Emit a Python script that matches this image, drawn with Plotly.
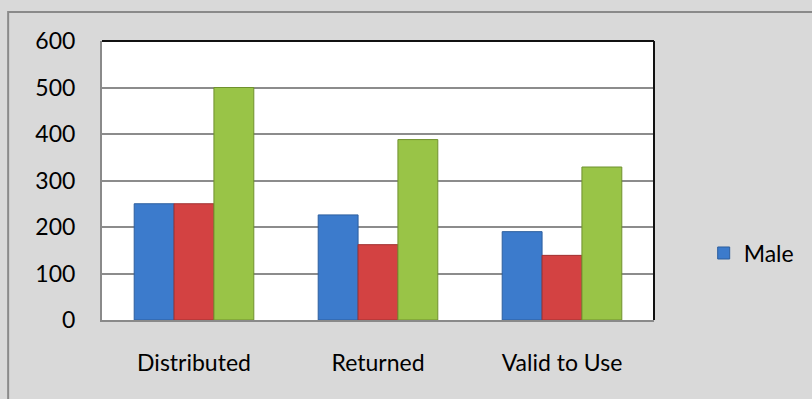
import plotly.graph_objects as go

categories = ["Distributed", "Returned", "Valid to Use"]
male = [250, 226, 190]
series_b = [250, 162, 139]
series_c = [500, 388, 329]
y_ticks = [0, 100, 200, 300, 400, 500, 600]

FONT = "Lato, Calibri, Carlito, sans-serif"

fig = go.Figure()
fig.add_trace(go.Bar(
    x=categories, y=male, name="Male",
    marker=dict(color="#3c7bcc", line=dict(color="#2d5f9f", width=1)),
    showlegend=True,
))
fig.add_trace(go.Bar(
    x=categories, y=series_b, name="",
    marker=dict(color="#d34242", line=dict(color="#a03030", width=1)),
    showlegend=False,
))
fig.add_trace(go.Bar(
    x=categories, y=series_c, name="",
    marker=dict(color="#99c447", line=dict(color="#6f912e", width=1)),
    showlegend=False,
))

fig.update_layout(
    width=812, height=399,
    margin=dict(l=102, r=158, t=41, b=79),
    paper_bgcolor="#d9d9d9",
    plot_bgcolor="#ffffff",
    barmode="group",
    bargap=0.35,
    bargroupgap=0,
    font=dict(family=FONT, size=23, color="#000000"),
    legend=dict(
        x=1.09, y=0.24, xanchor="left", yanchor="middle",
        bgcolor="rgba(0,0,0,0)", font=dict(size=23),
    ),
    xaxis=dict(
        showline=True, linecolor="#8a8a8a", linewidth=2,
        ticks="outside", ticklen=21, tickcolor="rgba(0,0,0,0)",
        showgrid=False,
    ),
    yaxis=dict(
        range=[0, 600], tickvals=y_ticks,
        showgrid=True, gridcolor="#8c8c8c", gridwidth=2,
        showline=True, linecolor="#8a8a8a", linewidth=2,
        ticks="outside", ticklen=20, tickcolor="rgba(0,0,0,0)",
        zeroline=False,
    ),
    shapes=[
        # outer chart frame
        dict(type="rect", xref="paper", yref="paper",
             x0=-0.170, x1=1.5, y0=-0.5, y1=1.104,
             line=dict(color="#8a8a8a", width=2), layer="below"),
        # darker top and right edges of the plot area
        dict(type="line", xref="paper", yref="paper",
             x0=0, x1=1, y0=1, y1=1, line=dict(color="#111111", width=2)),
        dict(type="line", xref="paper", yref="paper",
             x0=1, x1=1, y0=0, y1=1, line=dict(color="#111111", width=2)),
    ],
)

fig.write_html("out.html")
